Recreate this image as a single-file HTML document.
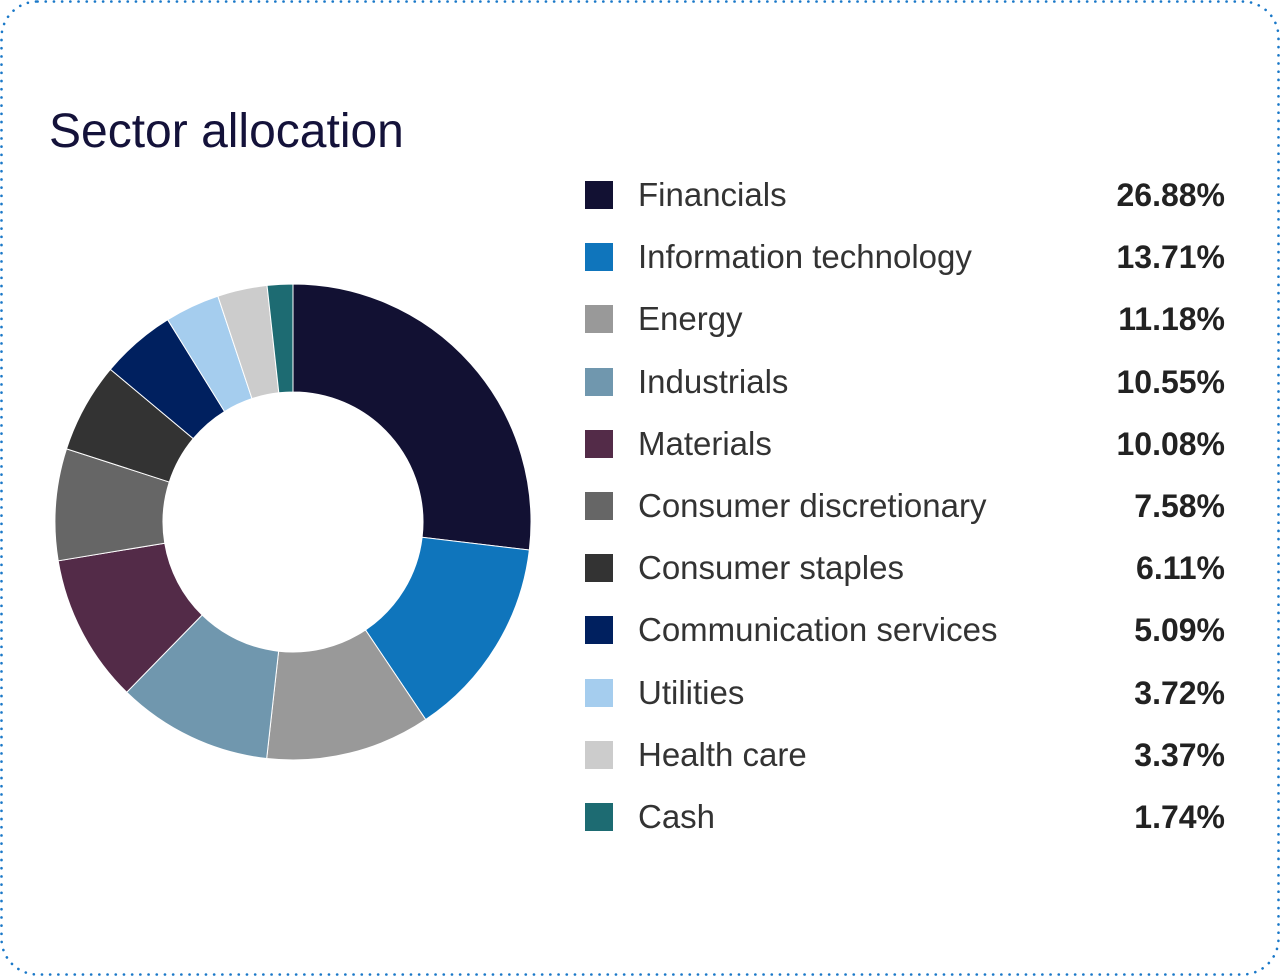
<!DOCTYPE html>
<html><head><meta charset="utf-8"><style>
body{margin:0;width:1280px;height:976px;background:#fff;font-family:"Liberation Sans",sans-serif;position:relative;overflow:hidden}
#title{position:absolute;left:49px;top:104px;font-size:48px;color:#14123a;margin:0;font-weight:normal}
.row{position:absolute;left:585px;width:640px;height:40px}
.sw{position:absolute;left:0;top:6px;width:28px;height:28px}
.lab{position:absolute;left:53px;top:0;font-size:33px;color:#333;font-weight:300;line-height:40px}
.val{position:absolute;right:0;top:0;font-size:32px;color:#222;font-weight:bold;line-height:40px}
</style></head><body>
<svg style="position:absolute;left:0;top:0" width="1280" height="976"><rect x="1.5" y="1.5" width="1277" height="973" rx="36" fill="none" stroke="#1a78c8" stroke-width="2.6" stroke-dasharray="0.1 8.1" stroke-linecap="round"/></svg>
<h1 id="title">Sector allocation</h1>
<svg id="donut" style="position:absolute;left:0;top:0" width="560" height="976"></svg>
<div id="legend"></div>
<script>
const categories=["Financials","Information technology","Energy","Industrials","Materials","Consumer discretionary","Consumer staples","Communication services","Utilities","Health care","Cash"];
const values=[26.88,13.71,11.18,10.55,10.08,7.58,6.11,5.09,3.72,3.37,1.74];
const valueLabels=["26.88%","13.71%","11.18%","10.55%","10.08%","7.58%","6.11%","5.09%","3.72%","3.37%","1.74%"];
const colors=["#121133","#0f75bc","#999999","#7097ae","#532b48","#666666","#333333","#00205f","#a5cdee","#cccccc","#1d6b72"];
const cx=293,cy=522,R=238,r=130;
const total=values.reduce((a,b)=>a+b,0);
const svg=document.getElementById('donut');
let a0=0;
function pt(rad,ang){return [cx+rad*Math.sin(ang),cy-rad*Math.cos(ang)];}
values.forEach((v,i)=>{
  const a1=a0+v/total*2*Math.PI;
  const large=(a1-a0)>Math.PI?1:0;
  const [x1,y1]=pt(R,a0),[x2,y2]=pt(R,a1),[x3,y3]=pt(r,a1),[x4,y4]=pt(r,a0);
  const p=document.createElementNS('http://www.w3.org/2000/svg','path');
  p.setAttribute('d',`M${x1},${y1}A${R},${R} 0 ${large} 1 ${x2},${y2}L${x3},${y3}A${r},${r} 0 ${large} 0 ${x4},${y4}Z`);
  p.setAttribute('fill',colors[i]);
  p.setAttribute('stroke','#fff');p.setAttribute('stroke-width','1');
  
  
  svg.appendChild(p);
  a0=a1;
});
const lg=document.getElementById('legend');
categories.forEach((c,i)=>{
  const row=document.createElement('div');
  row.className='row';row.style.top=(175+i*62.2)+'px';
  
  
  row.innerHTML=`<div class="sw" style="background:${colors[i]}"></div><div class="lab">${c}</div><div class="val">${valueLabels[i]}</div>`;
  lg.appendChild(row);
});
</script>
</body></html>
